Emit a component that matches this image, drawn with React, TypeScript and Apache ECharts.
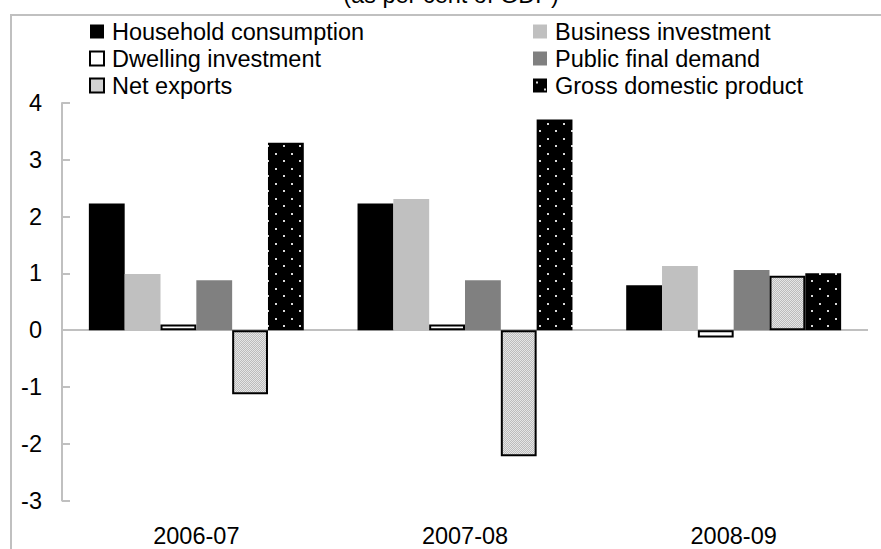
import React, { useEffect, useRef } from "react";
import * as echarts from "echarts";

const categories = ["2006-07", "2007-08", "2008-09"];
const seriesNames = [
  "Household consumption",
  "Business investment",
  "Dwelling investment",
  "Public final demand",
  "Net exports",
  "Gross domestic product",
];
const household = [2.23, 2.23, 0.79];
const business = [0.99, 2.31, 1.13];
const dwelling = [0.1, 0.1, -0.13];
const publicDemand = [0.88, 0.88, 1.06];
const netExports = [-1.13, -2.22, 0.96];
const gdp = [3.3, 3.71, 1.0];
const yMin = -3;
const yMax = 4;
const yInterval = 1;
const subtitle = "(as per cent of GDP)";

const FONT = "'Liberation Sans', Arial, sans-serif";

function makeChecker(): HTMLCanvasElement {
  const c = document.createElement("canvas");
  c.width = 2;
  c.height = 2;
  const ctx = c.getContext("2d")!;
  ctx.fillStyle = "#bcbcbc";
  ctx.fillRect(0, 0, 2, 2);
  ctx.fillStyle = "#e6e6e6";
  ctx.fillRect(0, 0, 1, 1);
  ctx.fillRect(1, 1, 1, 1);
  return c;
}

function makeDots(): HTMLCanvasElement {
  const c = document.createElement("canvas");
  c.width = 16;
  c.height = 15;
  const ctx = c.getContext("2d")!;
  ctx.fillStyle = "#000000";
  ctx.fillRect(0, 0, 16, 15);
  ctx.fillStyle = "#d8d8d8";
  ctx.fillRect(3, 3, 2, 2);
  ctx.fillRect(11, 10, 2, 2);
  return c;
}

export default function App() {
  const ref = useRef<HTMLDivElement>(null);
  useEffect(() => {
    if (!ref.current) return;
    const chart = echarts.init(ref.current, undefined, { renderer: "svg" });
    const checker = { image: makeChecker(), repeat: "repeat" } as any;
    const dots = { image: makeDots(), repeat: "repeat" } as any;
    const values = [household, business, dwelling, publicDemand, netExports, gdp];
    const styles: any[] = [
      { color: "#000000" },
      { color: "#c0c0c0" },
      { color: "#ffffff", borderColor: "#000000", borderWidth: 2 },
      { color: "#808080" },
      { color: checker, borderColor: "#000000", borderWidth: 2 },
      { color: dots },
    ];
    const series: any[] = seriesNames.map((name, i) => ({
      name,
      type: "bar",
      data: values[i],
      barGap: "0%",
      barCategoryGap: "20%",
      itemStyle: styles[i],
      ...(i === 0
        ? {
            markLine: {
              silent: true,
              symbol: "none",
              label: { show: false },
              lineStyle: { color: "#c0c0c0", width: 2, type: "solid" },
              data: [{ yAxis: 0 }],
              z: 1,
            },
          }
        : {}),
    }));
    const legendCommon = {
      orient: "vertical",
      icon: "rect",
      itemWidth: 14,
      itemHeight: 14,
      itemGap: 0,
      top: 18,
      padding: 0,
      textStyle: {
        fontFamily: FONT,
        fontSize: 23.5,
        color: "#000000",
        lineHeight: 27,
        padding: [0, 0, 0, 3],
      },
    };
    chart.setOption({
      animation: false,
      backgroundColor: "#ffffff",
      grid: { left: 62, right: 13, top: 103, bottom: 48.5, containLabel: false },
      legend: [
        { ...legendCommon, left: 89, data: [seriesNames[0], seriesNames[2], seriesNames[4]] },
        { ...legendCommon, left: 533, data: [seriesNames[1], seriesNames[3], seriesNames[5]] },
      ],
      xAxis: {
        type: "category",
        data: categories,
        position: "bottom",
        axisLine: { show: false, onZero: false },
        axisTick: { show: false },
        axisLabel: { fontFamily: FONT, fontSize: 23.5, color: "#000000", margin: 23 },
      },
      yAxis: {
        type: "value",
        min: yMin,
        max: yMax,
        interval: yInterval,
        axisLine: { show: true, lineStyle: { color: "#c0c0c0", width: 2 } },
        axisTick: { show: true, inside: true, length: 8, lineStyle: { color: "#c0c0c0", width: 2 } },
        splitLine: { show: false },
        axisLabel: { fontFamily: FONT, fontSize: 23.5, color: "#000000", margin: 20 },
      },
      graphic: [
        {
          type: "rect",
          shape: { x: 11, y: 15, width: 1000, height: 1000 },
          style: { fill: "none", stroke: "#c0c0c0", lineWidth: 2 },
          silent: true,
          z: -10,
        },
        {
          type: "text",
          x: 451,
          y: 7,
          style: {
            text: subtitle,
            fontFamily: FONT,
            fontSize: 23.5,
            fill: "#000000",
            textAlign: "center",
            textVerticalAlign: "bottom",
          },
          silent: true,
        },
      ],
      series,
    });
    return () => chart.dispose();
  }, []);
  return (
    <div
      ref={ref}
      style={{ position: "absolute", left: 0, top: 0, width: 881, height: 549 }}
    />
  );
}
